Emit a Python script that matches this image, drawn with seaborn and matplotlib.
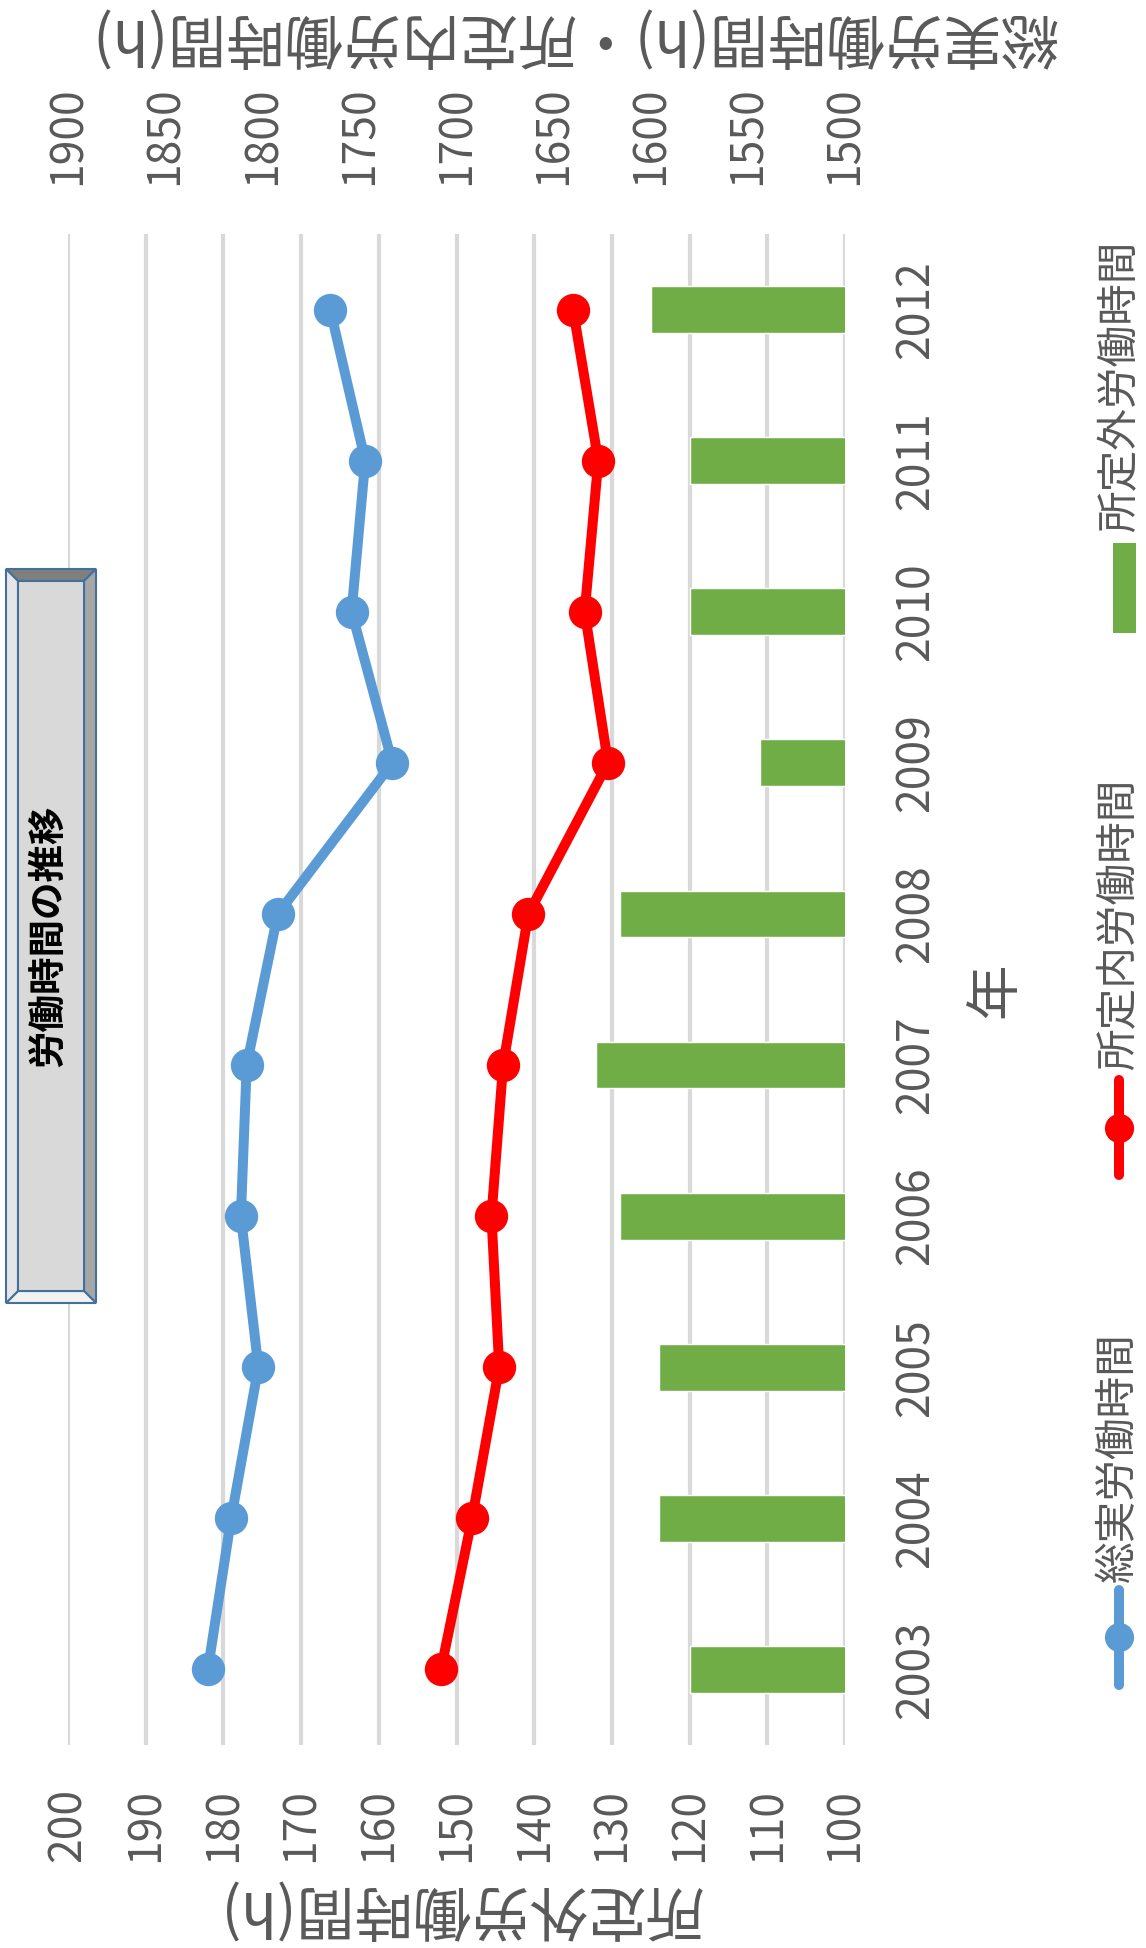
import numpy as np
import pandas as pd
import matplotlib
matplotlib.use("Agg")
import matplotlib.pyplot as plt
from matplotlib.patches import Polygon, Rectangle
import seaborn as sns

# Data
years = ["2003", "2004", "2005", "2006", "2007", "2008", "2009", "2010", "2011", "2012"]
total_hours = [1828, 1816, 1802, 1811, 1808, 1792, 1733, 1754, 1747, 1765]      # 総実労働時間
scheduled_hours = [1708, 1692, 1678, 1682, 1676, 1663, 1622, 1634, 1627, 1640]  # 所定内労働時間
overtime_hours = [120, 124, 124, 129, 132, 129, 111, 120, 120, 125]             # 所定外労働時間

left_ticks = [100, 110, 120, 130, 140, 150, 160, 170, 180, 190, 200]
right_ticks = [1500, 1550, 1600, 1650, 1700, 1750, 1800, 1850, 1900]

BLUE = "#5b9bd5"
RED = "#ff0000"
GREEN = "#70ad47"
GRAY = "#595959"

sns.set_theme(style="white")
plt.rcParams["font.family"] = ["Noto Sans CJK JP", "DejaVu Sans"]

W, H = 1146, 1948
fig = plt.figure(figsize=(W / 100, H / 100), dpi=100)
fig.patch.set_facecolor("white")

# plot area in pixels
px_l, px_r, px_t, px_b = 68, 845, 234, 1745
ax = fig.add_axes([px_l / W, 1 - px_b / H, (px_r - px_l) / W, (px_b - px_t) / H])

df = pd.DataFrame({"year": years, "overtime": overtime_hours})
sns.barplot(data=df, x="overtime", y="year", orient="h", color=GREEN,
            saturation=1, width=0.31, ax=ax, zorder=2)

ax.set_xlim(200, 100)
ax.set_xticks(left_ticks)
ax.set_xticklabels([str(t) for t in left_ticks], rotation=90, fontsize=32, color=GRAY)
ax.tick_params(axis="x", length=0, pad=31)
ax.yaxis.tick_right()
ax.tick_params(axis="y", length=0, pad=34)
for lab in ax.get_yticklabels():
    lab.set_rotation(90)
    lab.set_fontsize(32)
    lab.set_color(GRAY)
    lab.set_va("center")
ax.xaxis.grid(True, color="#d9d9d9", linewidth=3, zorder=0)
ax.set_axisbelow(True)
ax.set_xlabel("")
ax.set_ylabel("")
for s in ax.spines.values():
    s.set_visible(False)

# secondary axis for the lines
ax2 = ax.twiny()
pos = np.arange(len(years))
sns.lineplot(x=total_hours, y=pos, orient="y", sort=False, ax=ax2, color=BLUE,
             linewidth=7.2, marker="o", markersize=24, markeredgecolor=BLUE,
             markeredgewidth=0, solid_joinstyle="round", zorder=4)
sns.lineplot(x=scheduled_hours, y=pos, orient="y", sort=False, ax=ax2, color=RED,
             linewidth=7.2, marker="o", markersize=24, markeredgecolor=RED,
             markeredgewidth=0, solid_joinstyle="round", zorder=4)
ax2.set_xlim(1900, 1500)
ax2.set_xticks(right_ticks)
ax2.set_xticklabels([str(t) for t in right_ticks], rotation=90, fontsize=32, color=GRAY)
ax2.tick_params(axis="x", length=0, pad=35)
ax2.set_xlabel("")
ax2.set_ylabel("")
ax2.grid(False)
for s in ax2.spines.values():
    s.set_visible(False)
ax.set_ylim(-0.5, len(years) - 0.5)

# overlay in pixel coordinates for titles, legend, and title box
ov = fig.add_axes([0, 0, 1, 1], zorder=10)
ov.set_xlim(0, W)
ov.set_ylim(H, 0)
ov.axis("off")
ov.patch.set_alpha(0)

ov.text(573, 36, "総実労働時間(h)・所定内労働時間(h)", rotation=180, fontsize=42,
        color=GRAY, ha="center", va="center")
ov.text(460, 1908, "所定外労働時間(h)", rotation=180, fontsize=42,
        color=GRAY, ha="center", va="center")
ov.text(996, 990, "年", rotation=90, fontsize=40, color=GRAY, ha="center", va="center")

# legend
lx = 1119
ov.plot([lx, lx], [1590, 1685], color=BLUE, lw=7.2, solid_capstyle="round")
ov.plot([lx], [1637], marker="o", ms=21, color=BLUE, mew=0)
ov.text(lx, 1582, "総実労働時間", rotation=90, fontsize=30, color=GRAY, ha="center", va="bottom")
ov.plot([lx, lx], [1080, 1175], color=RED, lw=7.2, solid_capstyle="round")
ov.plot([lx], [1128], marker="o", ms=21, color=RED, mew=0)
ov.text(lx, 1070, "所定内労働時間", rotation=90, fontsize=30, color=GRAY, ha="center", va="bottom")
ov.add_patch(Rectangle((1113, 543), 23, 90, color=GREEN, lw=0))
ov.text(lx + 2, 532, "所定外労働時間", rotation=90, fontsize=30, color=GRAY, ha="center", va="bottom")

# title box with bevel
bx0, bx1, by0, by1 = 6, 96, 569, 1303
b = 12
edge = "#41719c"
ov.add_patch(Polygon([(bx0, by0), (bx1, by0), (bx1 - b, by0 + b), (bx0 + b, by0 + b)],
                     closed=True, fc="#7f7f7f", ec=edge, lw=1.5))
ov.add_patch(Polygon([(bx1, by0), (bx1, by1), (bx1 - b, by1 - b), (bx1 - b, by0 + b)],
                     closed=True, fc="#a6a6a6", ec=edge, lw=1.5))
ov.add_patch(Polygon([(bx0, by1), (bx1, by1), (bx1 - b, by1 - b), (bx0 + b, by1 - b)],
                     closed=True, fc="#f2f2f2", ec=edge, lw=1.5))
ov.add_patch(Polygon([(bx0, by0), (bx0, by1), (bx0 + b, by1 - b), (bx0 + b, by0 + b)],
                     closed=True, fc="#e6e6e6", ec=edge, lw=1.5))
ov.add_patch(Rectangle((bx0 + b, by0 + b), bx1 - bx0 - 2 * b, by1 - by0 - 2 * b,
                       fc="#d9d9d9", ec=edge, lw=1.5))
ov.text((bx0 + bx1) / 2 - 3, (by0 + by1) / 2, "労働時間の推移", rotation=90, fontsize=27,
        fontweight="bold", color="black", ha="center", va="center")

fig.savefig("out.png", dpi=100, facecolor="white")
